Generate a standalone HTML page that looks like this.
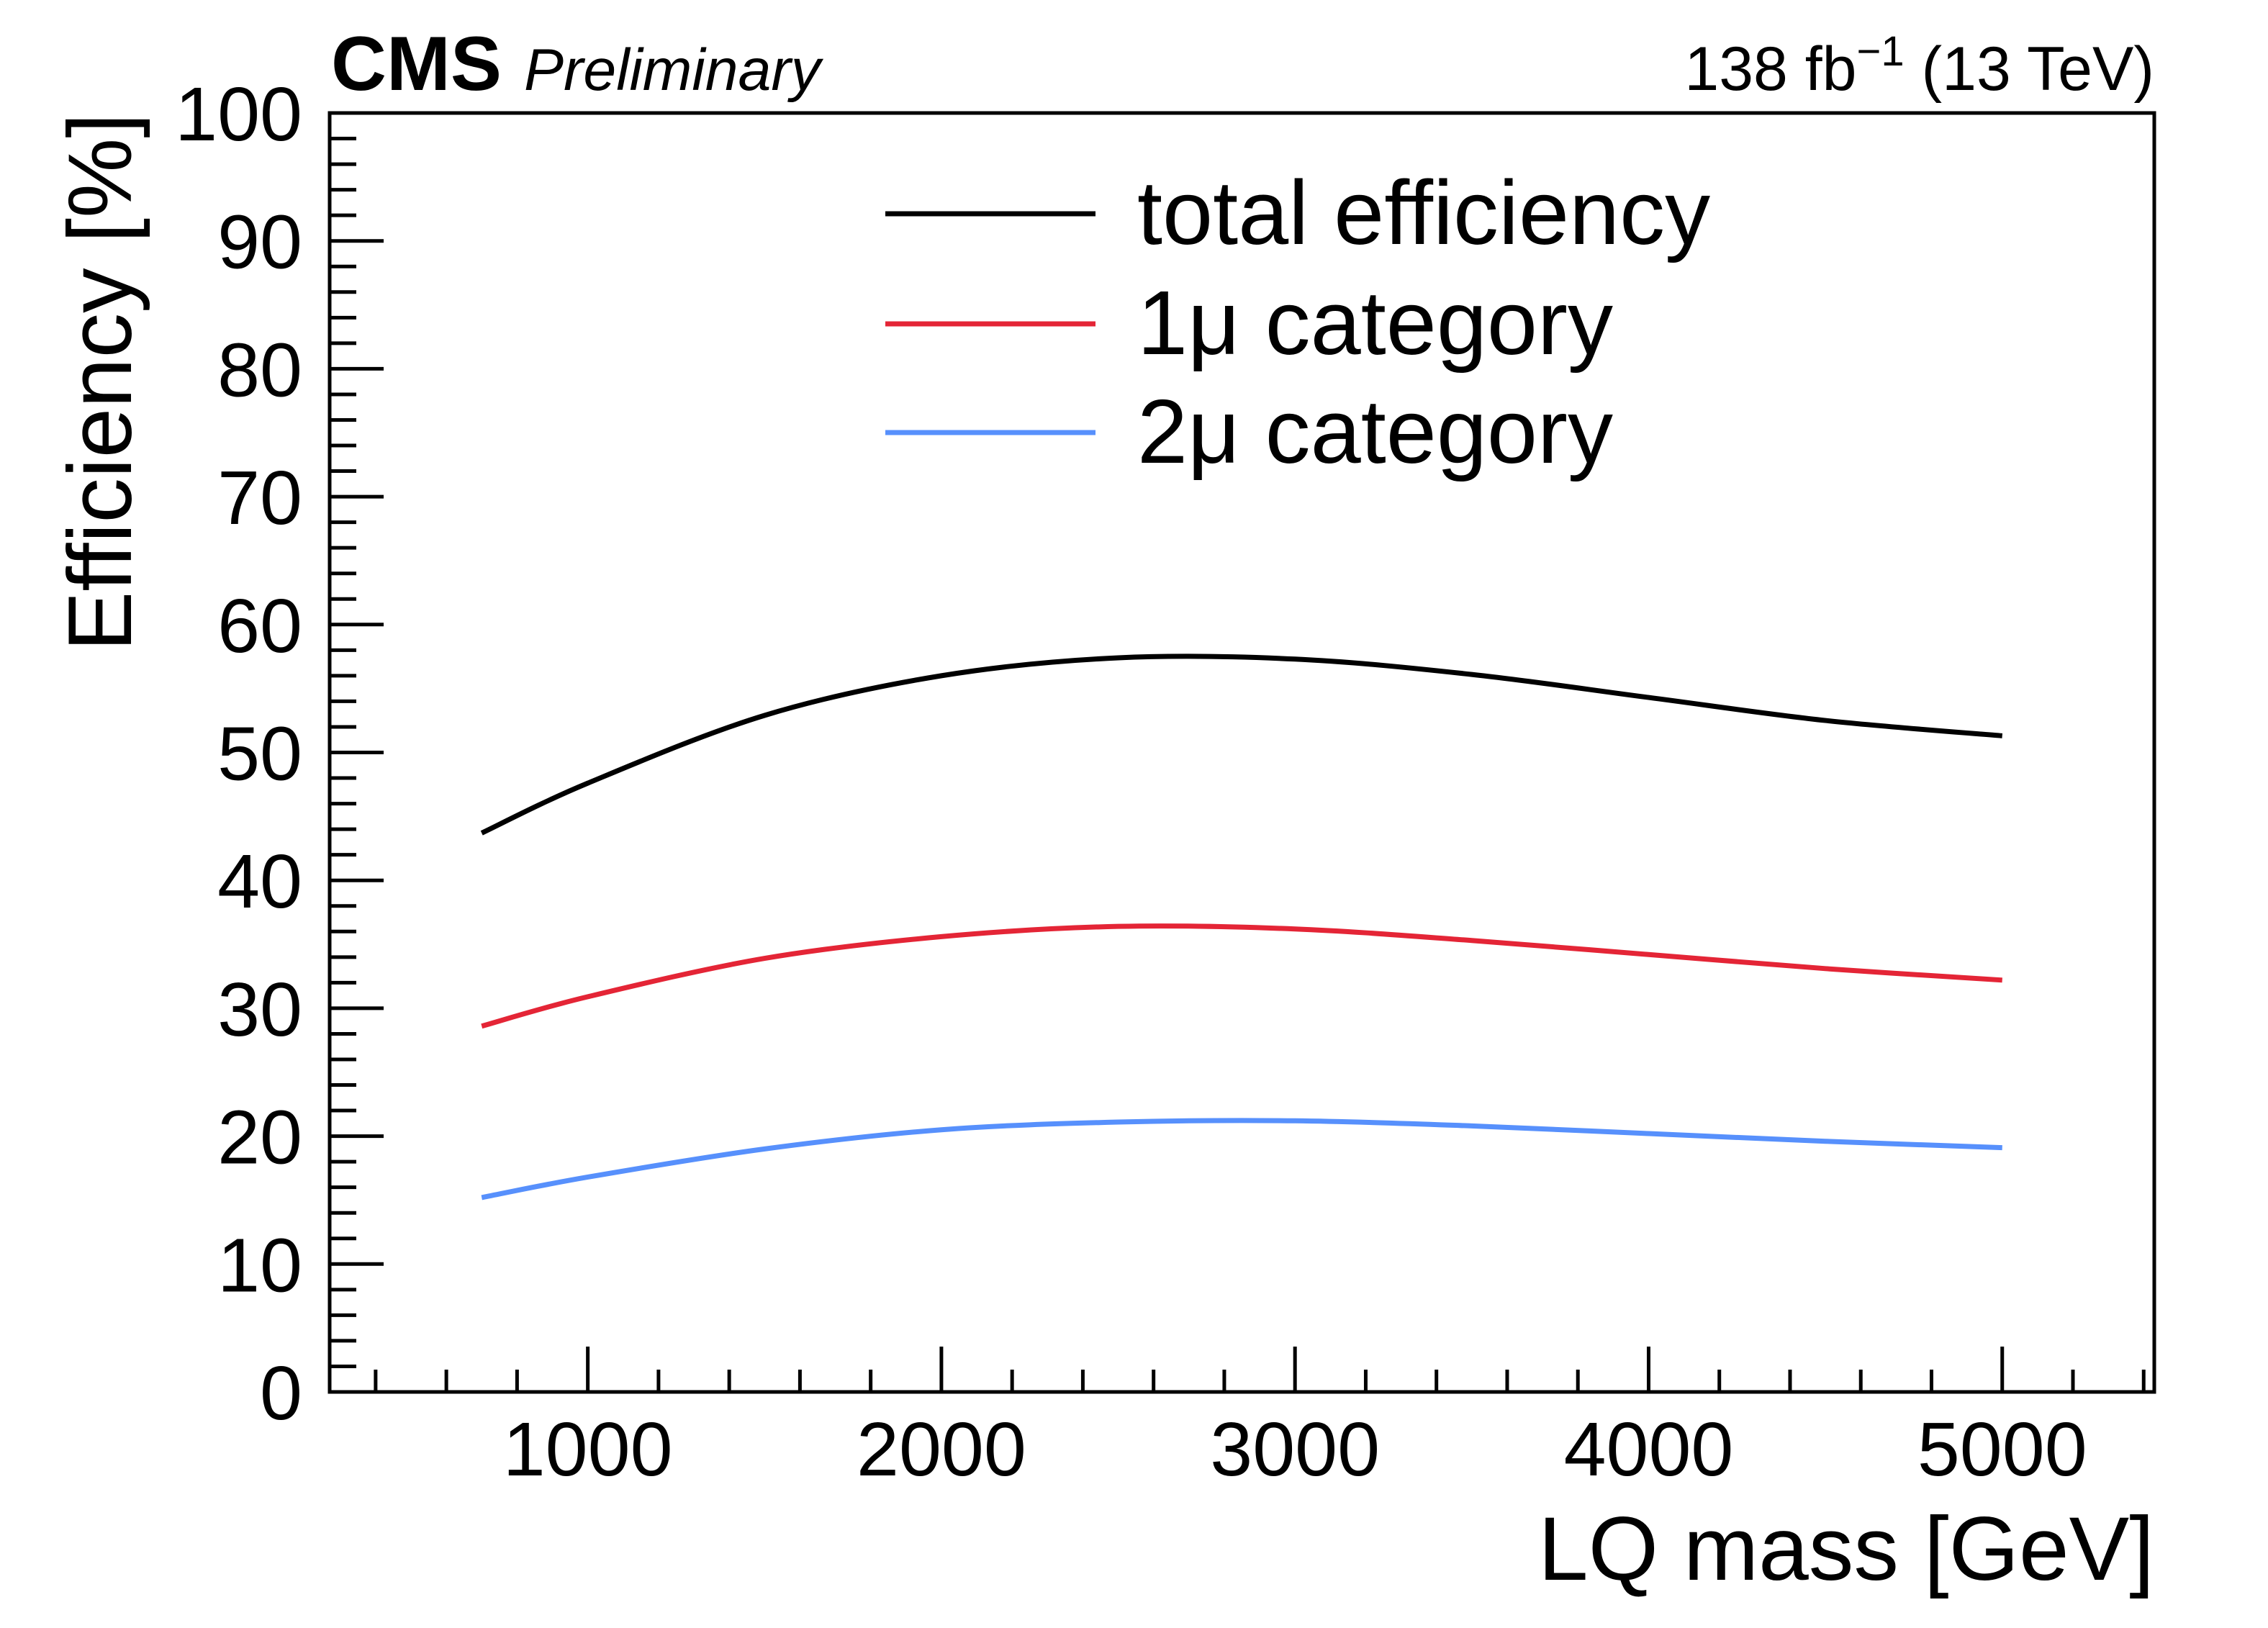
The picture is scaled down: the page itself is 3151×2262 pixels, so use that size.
<!DOCTYPE html>
<html><head><meta charset="utf-8"><style>
html,body{margin:0;padding:0;background:#fff;}
svg{display:block;font-family:"Liberation Sans",Arial,sans-serif;}
</style></head><body>
<svg id="chart" width="3151" height="2262" viewBox="0 0 3151 2262" xmlns="http://www.w3.org/2000/svg">
<rect x="0" y="0" width="3151" height="2262" fill="#fff"/>
<g id="ticks" stroke="#000" stroke-width="5"></g>
<g id="labels" font-size="106" fill="#000"></g>
<g id="series" fill="none" stroke-width="7"></g>
<rect x="458" y="157" width="2535" height="1777" fill="none" stroke="#000" stroke-width="5"/>
<text x="460" y="125" font-size="107" font-weight="bold" textLength="237" lengthAdjust="spacingAndGlyphs">CMS</text>
<text x="728" y="125" font-size="82" font-style="italic" textLength="412" lengthAdjust="spacingAndGlyphs">Preliminary</text>
<text x="2993" y="125" font-size="86" text-anchor="end">138 fb<tspan dy="-34" font-size="58">−1</tspan><tspan dy="34"> (13 TeV)</tspan></text>
<text transform="translate(182,157) rotate(-90)" text-anchor="end" font-size="125" textLength="748" lengthAdjust="spacingAndGlyphs">Efficiency [%]</text>
<text x="2993" y="2195" text-anchor="end" font-size="125" textLength="856" lengthAdjust="spacingAndGlyphs">LQ mass [GeV]</text>
<g id="legend"></g>
</svg>
<script>
const masses = [700, 1000, 1500, 2000, 2500, 3000, 3500, 4000, 4500, 5000];
const totalEff = [43.7, 47.6, 52.9, 56.0, 57.4, 57.3, 56.1, 54.3, 52.5, 51.3];
const oneMuEff = [28.6, 30.9, 33.9, 35.6, 36.4, 36.2, 35.3, 34.2, 33.1, 32.2];
const twoMuEff = [15.2, 16.8, 19.0, 20.5, 21.1, 21.2, 20.8, 20.2, 19.6, 19.1];
const seriesNames = ["total efficiency", "1\u03bc category", "2\u03bc category"];
const xTickLabels = ["1000", "2000", "3000", "4000", "5000"];
const yTickLabels = ["0","10","20","30","40","50","60","70","80","90","100"];

const NS = "http://www.w3.org/2000/svg";
const X0 = 458, X1 = 2993, Y0 = 1934, Y1 = 157;
const xMin = 270, xMax = 5430, yMin = 0, yMax = 100;
const xs = v => X0 + (v - xMin) / (xMax - xMin) * (X1 - X0);
const ys = v => Y0 - (v - yMin) / (yMax - yMin) * (Y0 - Y1);
function mk(tag, attrs, parent) {
  const e = document.createElementNS(NS, tag);
  for (const k in attrs) e.setAttribute(k, attrs[k]);
  parent.appendChild(e);
  return e;
}
const ticks = document.getElementById('ticks');
const labels = document.getElementById('labels');
for (let v = 0; v <= 100; v += 2) {
  const major = v % 10 === 0;
  const t = mk('line', {x1: X0, x2: X0 + (major ? 75 : 37), y1: ys(v), y2: ys(v)}, ticks);
  
  
}
yTickLabels.forEach(s => {
  const t = mk('text', {x: 420, y: ys(+s) + 38, 'text-anchor': 'end'}, labels);
  t.textContent = s;
  
  
});
for (let v = 400; v <= 5400; v += 200) {
  const major = v % 1000 === 0;
  const t = mk('line', {x1: xs(v), x2: xs(v), y1: Y0, y2: Y0 - (major ? 63 : 31)}, ticks);
  
  
}
xTickLabels.forEach(s => {
  const t = mk('text', {x: xs(+s), y: 2050, 'text-anchor': 'middle'}, labels);
  t.textContent = s;
  
  
});
function pathFor(vals) {
  const p = masses.map((m, i) => [xs(m), ys(vals[i])]);
  let d = `M${p[0][0]},${p[0][1]}`;
  for (let i = 0; i < p.length - 1; i++) {
    const a = p[Math.max(0, i - 1)], b = p[i], c = p[i + 1], e = p[Math.min(p.length - 1, i + 2)];
    const c1 = [b[0] + (c[0] - a[0]) / 6, b[1] + (c[1] - a[1]) / 6];
    const c2 = [c[0] - (e[0] - b[0]) / 6, c[1] - (e[1] - b[1]) / 6];
    d += ` C${c1[0]},${c1[1]} ${c2[0]},${c2[1]} ${c[0]},${c[1]}`;
  }
  return d;
}
const colors = ["#000000", "#e42536", "#5790fc"];
const allSeries = [totalEff, oneMuEff, twoMuEff];
const sKeys = ["total-efficiency-line", "one-mu-line", "two-mu-line"];
const sg = document.getElementById('series');
allSeries.forEach((vals, i) => {
  const p = mk('path', {d: pathFor(vals), stroke: colors[i]}, sg);
  
  
});
const lg = document.getElementById('legend');
const legY = [297, 450, 601];
seriesNames.forEach((n, i) => {
  const l = mk('line', {x1: 1230, x2: 1522, y1: legY[i], y2: legY[i], stroke: colors[i], 'stroke-width': 7}, lg);
  
  
  const t = mk('text', {x: 1580, y: legY[i] + 42, 'font-size': 126}, lg);
  t.textContent = n;
  
  
});
</script>
</body></html>
